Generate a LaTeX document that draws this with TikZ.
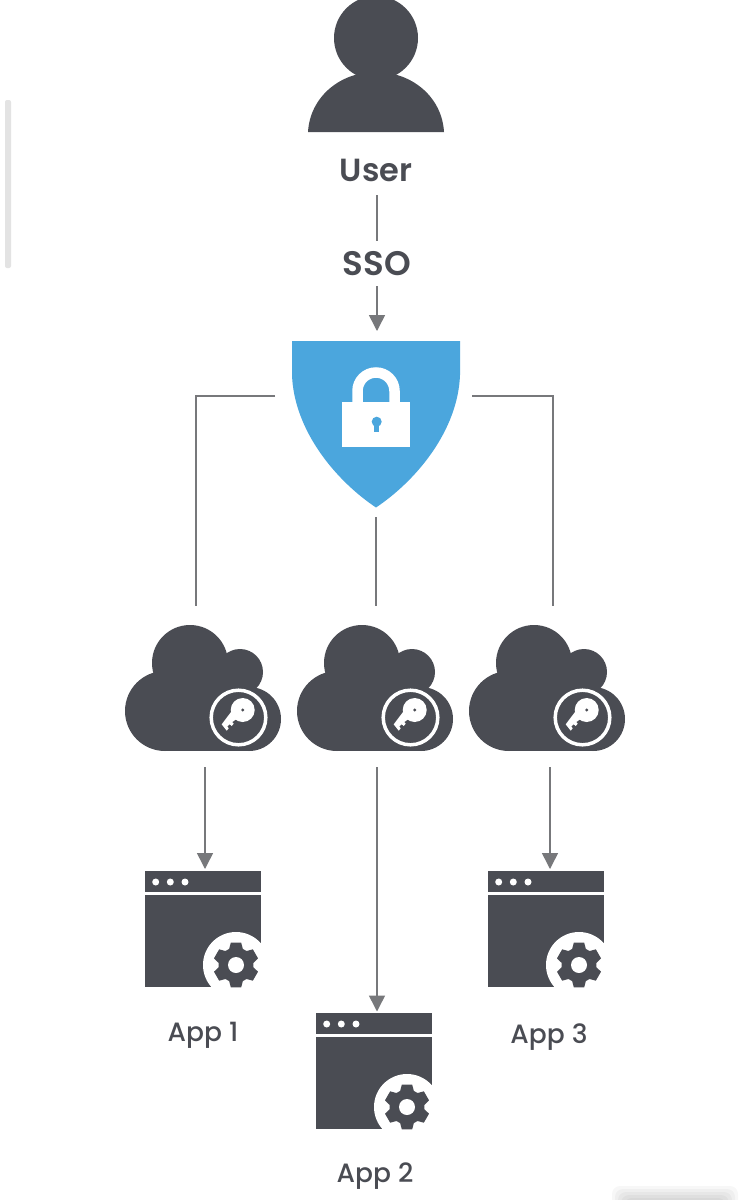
\documentclass[tikz,border=0pt]{standalone}
\usepackage{fontspec}
\setmainfont{Poppins}[BoldFont={Poppins SemiBold}]
\newfontfamily\appfont{Poppins Medium}
\usetikzlibrary{arrows.meta,calc}
\definecolor{ink}{HTML}{4A4C53}
\definecolor{shieldblue}{HTML}{4BA6DD}
\definecolor{wire}{HTML}{77787B}
\tikzset{
  conn/.style={draw=wire,line width=1.5pt},
  arr/.style={conn,-{Triangle[width=16pt,length=16pt]}},
  box/.style={inner sep=0pt,outer sep=0pt,text width=0pt},
  boldlabel/.style={inner sep=0pt,outer sep=0pt,text=ink,font=\fontsize{32}{32}\selectfont\bfseries},
  ssolabel/.style={boldlabel,font=\fontsize{34}{34}\selectfont\bfseries},
  applabel/.style={inner sep=0pt,outer sep=0pt,text=ink,font=\fontsize{26.5}{26.5}\appfont},
  cloudpic/.pic={
    \fill[ink] (165,711) circle (40);
    \fill[ink] (190,663) circle (38);
    \fill[ink] (240,672) circle (23);
    \fill[ink] (249,719) circle (32);
    \fill[ink] (165,690) rectangle (249,751);
    \fill[ink] (190,660) rectangle (240,700);
    \draw[white,line width=3.5pt] (238.5,717.5) circle (27.3);
    \fill[white] (242.7,710) circle (12);
    \fill[white] (233.3,709) -- (221.7,724.3) -- (226.7,730.7) -- (228.7,728.3) -- (227.3,726.3) -- (229.7,724.3)
      -- (231.7,726) -- (233.7,723.7) -- (232.3,722) -- (241,716) -- cycle;
    \fill[ink] (242.7,710) circle (1.6);
  },
  winpic/.pic={
    \fill[ink] (145,871) rectangle (261,892);
    \fill[ink] (145,895) rectangle (261,987);
    \fill[white] (155.7,882) circle (3.5);
    \fill[white] (170.3,882) circle (3.5);
    \fill[white] (185,882) circle (3.5);
    \fill[white] (236,965) circle (33);
    \fill[ink] ($(236,965)+(77:23)$)
      \foreach \k in {0,60,...,300} {
        -- ($(236,965)+(\k+77:23)$) -- ($(236,965)+(\k+103:23)$) -- ($(236,965)+(\k+113:17.5)$) -- ($(236,965)+(\k+127:17.5)$)
      } -- cycle;
    \fill[white] (236,965) circle (8);
  }
}
\begin{document}
\begin{tikzpicture}[x=1pt,y=-1pt]
\useasboundingbox (0,0) rectangle (750,1200);
\fill[white] (0,0) rectangle (750,1200);
% scrollbar and bottom shadow
\fill[black!11,rounded corners=2pt] (5,100) rectangle (11,268);
\begin{scope}
\clip (0,0) rectangle (750,1200);
\foreach \d/\o in {0/.03,3/.03,6/.03,9/.03,12/.03}
  \fill[black,opacity=\o,rounded corners=8pt] (612+\d,1186+\d) rectangle (738-\d,1215);
\end{scope}
% user
\begin{scope}
\clip (0,0) rectangle (750,1200);
\fill[ink] (376,38) circle (42);
\end{scope}
\fill[ink] (308,132) .. controls (310,97) and (340,72) .. (376,72) .. controls (412,72) and (442,97) .. (444,132) -- cycle;
\node[boldlabel,minimum height=50pt] (user) at (376,170) {User};
\node[ssolabel,minimum height=45pt] (sso) at (377,263.5) {SSO};
% shield
\fill[shieldblue] (292,341) -- (460,341) -- (460,375) .. controls (458,430) and (417,480) .. (376,507.5) .. controls (335,480) and (294,430) .. (292,375) -- cycle;
\fill[white] (342,402) rectangle (410,447);
\draw[white,line width=10.5pt] (357.5,403) -- (357.5,391) arc[start angle=180,end angle=360,radius=18.5] -- (394.5,403);
\fill[shieldblue] (376.7,421.7) circle (5);
\fill[shieldblue] (374.2,422) rectangle (379.2,431.7);
\node[box,minimum width=197pt,minimum height=186pt] (shield) at (373.5,424) {};
% clouds
\pic at (0,0) {cloudpic};
\pic at (172,0) {cloudpic};
\pic at (344,0) {cloudpic};
\node[box,minimum width=156pt,minimum height=161pt] (cloud1) at (203,686.5) {};
\node[box,minimum width=156pt,minimum height=161pt] (cloud2) at (375,686.5) {};
\node[box,minimum width=156pt,minimum height=161pt] (cloud3) at (547,686.5) {};
% windows
\pic at (0,0) {winpic};
\pic at (171,142) {winpic};
\pic at (343,0) {winpic};
\node[box,minimum width=116pt,minimum height=118pt] (win1) at (203,928) {};
\node[box,minimum width=116pt,minimum height=118pt] (win2) at (374,1070.5) {};
\node[box,minimum width=116pt,minimum height=118pt] (win3) at (546,928) {};
\node[applabel] (app1) at (203,1035) {App 1};
\node[applabel] (app2) at (375,1176) {App 2};
\node[applabel] (app3) at (549,1037) {App 3};
% connectors
\draw[conn] (sso.north |- user.south) -- (sso.north);
\draw[arr] (sso.south) -- (sso.south |- shield.north);
\draw[conn] ([yshift=28pt]shield.west) -| ([xshift=-7pt]cloud1.north);
\draw[conn] ([yshift=28pt]shield.east) -| ([xshift=6pt]cloud3.north);
\draw[conn] ([xshift=2.5pt]shield.south) -- ([xshift=1pt]cloud2.north);
\draw[arr] ([xshift=2pt]cloud1.south) -- ([xshift=2pt]cloud1.south |- win1.north);
\draw[arr] ([xshift=2pt]cloud2.south) -- ([xshift=2pt]cloud2.south |- win2.north);
\draw[arr] ([xshift=3pt]cloud3.south) -- ([xshift=3pt]cloud3.south |- win3.north);
\end{tikzpicture}
\end{document}
